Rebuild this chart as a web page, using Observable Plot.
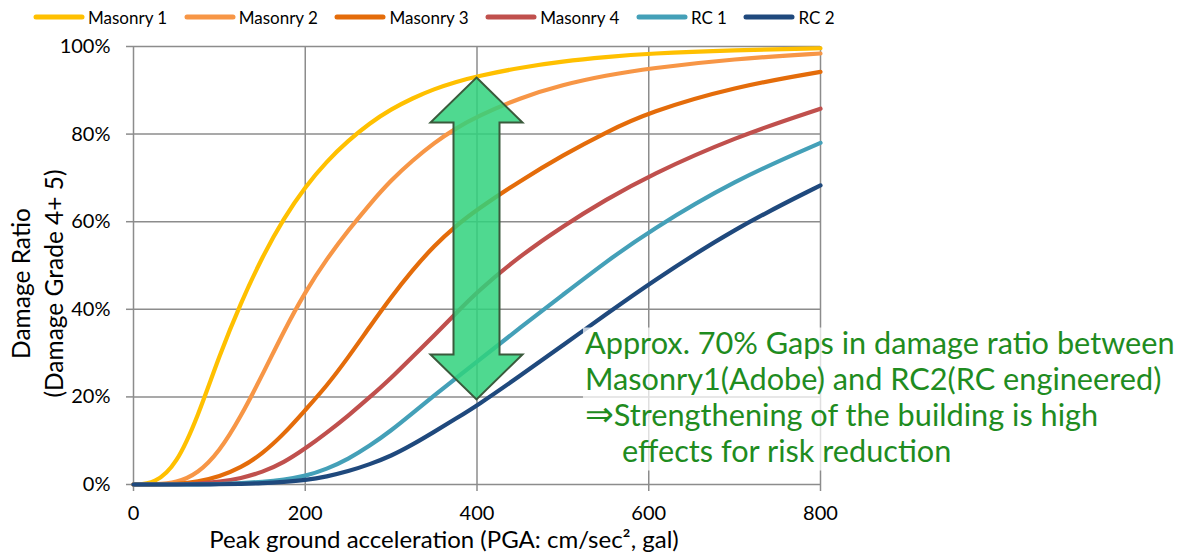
<!DOCTYPE html>
<html><head><meta charset="utf-8">
<script src="https://cdn.jsdelivr.net/npm/d3@7"></script>
<script src="https://cdn.jsdelivr.net/npm/@observablehq/plot@0.6"></script>
<style>
  html,body{margin:0;padding:0;background:#fff;}
  body{width:1185px;height:552px;overflow:hidden;font-family:Lato,"Open Sans",sans-serif;}
  #legend{display:flex;align-items:center;height:34px;padding-left:33px;gap:16.5px;font-size:17px;color:#000;box-sizing:border-box;}
  #legend .item{display:flex;align-items:center;gap:3px;}
</style>
</head><body>
<div id="legend"></div>
<div id="chart"></div>
<script>
// ---- data ----
const pga = [0,25,50,75,100,125,150,175,200,225,250,275,300,325,350,375,400,450,500,550,600,700,800];
const seriesNames = ["Masonry 1","Masonry 2","Masonry 3","Masonry 4","RC 1","RC 2"];
const seriesColors = ["#FFC000","#F79646","#E46C0A","#C0504D","#44A0B8","#1F497D"];
const masonry1 = [0,0.2,4.5,15.5,29.5,41.5,52,60.8,68,73.8,78.5,82.5,85.7,88.2,90.3,91.9,93.2,95.2,96.6,97.6,98.4,99.2,99.6];
const masonry2 = [0,0,0.4,2.5,7.5,15.5,25,35,44,51.5,58,64,69.5,74,78,81.3,84,88.3,91.3,93.4,95,97.2,98.4];
const masonry3 = [0,0,0.1,0.6,1.8,3.8,7,11.5,17,22.5,29,36,42.8,49,54.5,59,62.8,69.3,75.2,80.4,85,90.8,94.2];
const masonry4 = [0,0,0,0.2,0.6,1.4,2.8,5,8.2,11.8,15.7,19.9,24.3,29.2,34,39,44,52.2,59,65,70.5,79.3,85.8];
const rc1 = [0,0,0,0,0.1,0.3,0.6,1.1,1.9,3.5,5.8,8.8,12.3,16.3,20.3,24.2,28,35.8,43.3,50.8,57.8,69.5,78];
const rc2 = [0,0,0,0,0.05,0.15,0.3,0.6,1,1.8,3,4.6,6.5,9.1,12,15,18,24.8,31.8,38.8,45.8,58.5,68.3];
const seriesValues = [masonry1,masonry2,masonry3,masonry4,rc1,rc2];
const xTicks = [0,200,400,600,800];
const yTicks = [0,20,40,60,80,100];
const xLabel = "Peak ground acceleration (PGA: cm/sec², gal)";
const yLabel = "Damage Ratio\n(Damage Grade 4+ 5)";
// annotation (double arrow at PGA 400 between RC 2 and Masonry 1)
const arrowPga = 400, arrowFrom = 19.3, arrowTo = 92.8;
const noteLines = ["Approx. 70% Gaps in damage ratio between","Masonry1(Adobe) and RC2(RC engineered)","⇒Strengthening of the building is high","effects for risk reduction"];
const notePga = 524, noteTop = 35.5;

// ---- legend ----
const legend = document.getElementById("legend");
seriesNames.forEach((n,i)=>{
  const it = document.createElement("span"); it.className="item";
  it.innerHTML = `<svg width="52" height="10"><line x1="3" x2="49" y1="5" y2="5" stroke="${seriesColors[i]}" stroke-width="5" stroke-linecap="round"/></svg><span>${n}</span>`;
  legend.appendChild(it);
});

// ---- table ----
const rows = [];
seriesNames.forEach((name,i)=>pga.forEach((x,j)=>rows.push({series:name,pga:x,ratio:seriesValues[i][j]})));

const gridColor = "#8c8c8c";
const plot = Plot.plot({
  width:1185, height:518,
  marginLeft:133, marginRight:365, marginTop:12, marginBottom:68,
  style:{fontFamily:"Lato, 'Open Sans', sans-serif", fontSize:"20px", color:"#000", background:"#fff", overflow:"visible"},
  x:{domain:[0,800], label:null},
  y:{domain:[0,100], label:null},
  color:{domain:seriesNames, range:seriesColors},
  marks:[
    Plot.gridX(xTicks,{stroke:gridColor,strokeOpacity:1,strokeWidth:1.5}),
    Plot.gridY(yTicks,{stroke:gridColor,strokeOpacity:1,strokeWidth:1.5}),
    Plot.axisX({ticks:xTicks,tickSize:7,tickPadding:14,stroke:gridColor,strokeWidth:1.5,fill:"#000",tickFormat:d=>String(d),label:null}),
    Plot.axisY({ticks:yTicks,tickSize:7,tickPadding:16,stroke:gridColor,strokeWidth:1.5,fill:"#000",tickFormat:d=>d+"%",label:null}),
    Plot.line(rows,{x:"pga",y:"ratio",z:"series",stroke:"series",strokeWidth:4.2,curve:"basis",strokeLinejoin:"round"}),
    Plot.text([yLabel],{frameAnchor:"left",rotate:-90,dx:-97.5,dy:18,fontSize:24.5,lineHeight:1.35,textAnchor:"middle",lineAnchor:"middle",fill:"#000"}),
    Plot.text([xLabel],{frameAnchor:"bottom",dx:-33,dy:56,fontSize:24,textAnchor:"middle",lineAnchor:"middle",fill:"#000"})
  ]
});
document.getElementById("chart").appendChild(plot);

// ---- arrow + note overlay, placed through the plot's scales ----
const sx = plot.scale("x"), sy = plot.scale("y");
const svg = d3.select(plot);
const cx = sx.apply(arrowPga), yTop = sy.apply(arrowTo), yBot = sy.apply(arrowFrom);
const hw = 46, sw = 23, hl = 45;
const pts = [[cx,yTop],[cx+hw,yTop+hl],[cx+sw,yTop+hl],[cx+sw,yBot-hl],[cx+hw,yBot-hl],[cx,yBot],[cx-hw,yBot-hl],[cx-sw,yBot-hl],[cx-sw,yTop+hl],[cx-hw,yTop+hl]];
svg.append("polygon").attr("points",pts.map(p=>p.join(",")).join(" "))
  .attr("fill","#30D27C").attr("fill-opacity",0.85).attr("stroke","#3a5a3c").attr("stroke-width",2).attr("stroke-linejoin","miter");

const nx = sx.apply(notePga), ny = sy.apply(noteTop);
svg.append("rect").attr("x",nx).attr("y",ny-1).attr("width",1185-nx).attr("height",143).attr("fill","#fff").attr("fill-opacity",0.72);
const g = svg.append("g").attr("fill","#1f8c1f").attr("text-anchor","start").attr("font-family","Lato, 'Open Sans', sans-serif");
const texts = noteLines.map((t,i)=>{
  const el = g.append("text").attr("x",nx + 2 + (i===3?37:0)).attr("y",ny + 25 + i*36);
  if (t.startsWith("⇒")) {
    el.append("tspan").attr("class","arr").attr("font-family","'DejaVu Sans', sans-serif").text("⇒");
    el.append("tspan").text(t.slice(1));
  } else el.text(t);
  return el;
});
// fit the first line to the width it has in the reference
texts.forEach(t=>t.attr("font-size",30));
const w0 = texts[0].node().getComputedTextLength();
const fs = 30*590/w0;
texts.forEach(t=>t.attr("font-size",fs));
g.selectAll("tspan.arr").attr("font-size",fs*1.12);
</script>
</body></html>
